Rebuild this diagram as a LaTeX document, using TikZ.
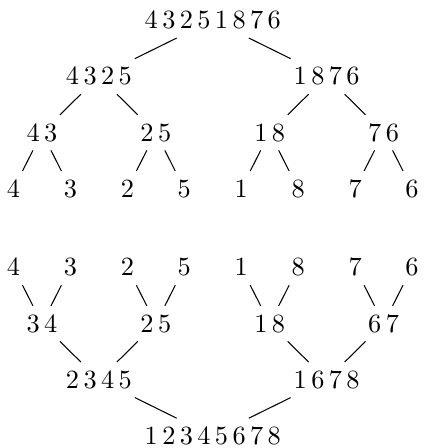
\documentclass[tikz,border=0pt]{standalone}
\usepackage{amsmath}
\usepackage{tikz}
\begin{document}
\begin{tikzpicture}[
  num/.style={inner sep=3.33pt},
  edge/.style={draw=black, line width=0.4pt},
]
\useasboundingbox (-2.84,-2.99) rectangle (2.84,2.99);
% splitting
\node[num] (s)   at (0,2.72)      {$4\,3\,2\,5\,1\,8\,7\,6$};
\node[num] (s0)  at (-1.52,1.97)  {$4\,3\,2\,5$};
\node[num] (s1)  at (1.52,1.97)   {$1\,8\,7\,6$};
\node[num] (s00) at (-2.28,1.22)  {$4\,3$};
\node[num] (s01) at (-0.76,1.22)  {$2\,5$};
\node[num] (s10) at (0.76,1.22)   {$1\,8$};
\node[num] (s11) at (2.28,1.22)   {$7\,6$};
\node[num] (a0)  at (-2.66,0.47)  {$4$};
\node[num] (a1)  at (-1.90,0.47)  {$3$};
\node[num] (a2)  at (-1.14,0.47)  {$2$};
\node[num] (a3)  at (-0.38,0.47)  {$5$};
\node[num] (a4)  at (0.38,0.47)   {$1$};
\node[num] (a5)  at (1.14,0.47)   {$8$};
\node[num] (a6)  at (1.90,0.47)   {$7$};
\node[num] (a7)  at (2.66,0.47)   {$6$};
\draw[edge] (s) -- (s0); \draw[edge] (s) -- (s1);
\draw[edge] (s0) -- (s00); \draw[edge] (s0) -- (s01);
\draw[edge] (s1) -- (s10); \draw[edge] (s1) -- (s11);
\draw[edge] (s00) -- (a0); \draw[edge] (s00) -- (a1);
\draw[edge] (s01) -- (a2); \draw[edge] (s01) -- (a3);
\draw[edge] (s10) -- (a4); \draw[edge] (s10) -- (a5);
\draw[edge] (s11) -- (a6); \draw[edge] (s11) -- (a7);
% merging
\node[num] (b0)  at (-2.66,-0.58) {$4$};
\node[num] (b1)  at (-1.90,-0.58) {$3$};
\node[num] (b2)  at (-1.14,-0.58) {$2$};
\node[num] (b3)  at (-0.38,-0.58) {$5$};
\node[num] (b4)  at (0.38,-0.58)  {$1$};
\node[num] (b5)  at (1.14,-0.58)  {$8$};
\node[num] (b6)  at (1.90,-0.58)  {$7$};
\node[num] (b7)  at (2.66,-0.58)  {$6$};
\node[num] (m00) at (-2.28,-1.33) {$3\,4$};
\node[num] (m01) at (-0.76,-1.33) {$2\,5$};
\node[num] (m10) at (0.76,-1.33)  {$1\,8$};
\node[num] (m11) at (2.28,-1.33)  {$6\,7$};
\node[num] (m0)  at (-1.52,-2.08) {$2\,3\,4\,5$};
\node[num] (m1)  at (1.52,-2.08)  {$1\,6\,7\,8$};
\node[num] (m)   at (0,-2.83)     {$1\,2\,3\,4\,5\,6\,7\,8$};
\draw[edge] (b0) -- (m00); \draw[edge] (b1) -- (m00);
\draw[edge] (b2) -- (m01); \draw[edge] (b3) -- (m01);
\draw[edge] (b4) -- (m10); \draw[edge] (b5) -- (m10);
\draw[edge] (b6) -- (m11); \draw[edge] (b7) -- (m11);
\draw[edge] (m00) -- (m0); \draw[edge] (m01) -- (m0);
\draw[edge] (m10) -- (m1); \draw[edge] (m11) -- (m1);
\draw[edge] (m0) -- (m); \draw[edge] (m1) -- (m);
\end{tikzpicture}
\end{document}
